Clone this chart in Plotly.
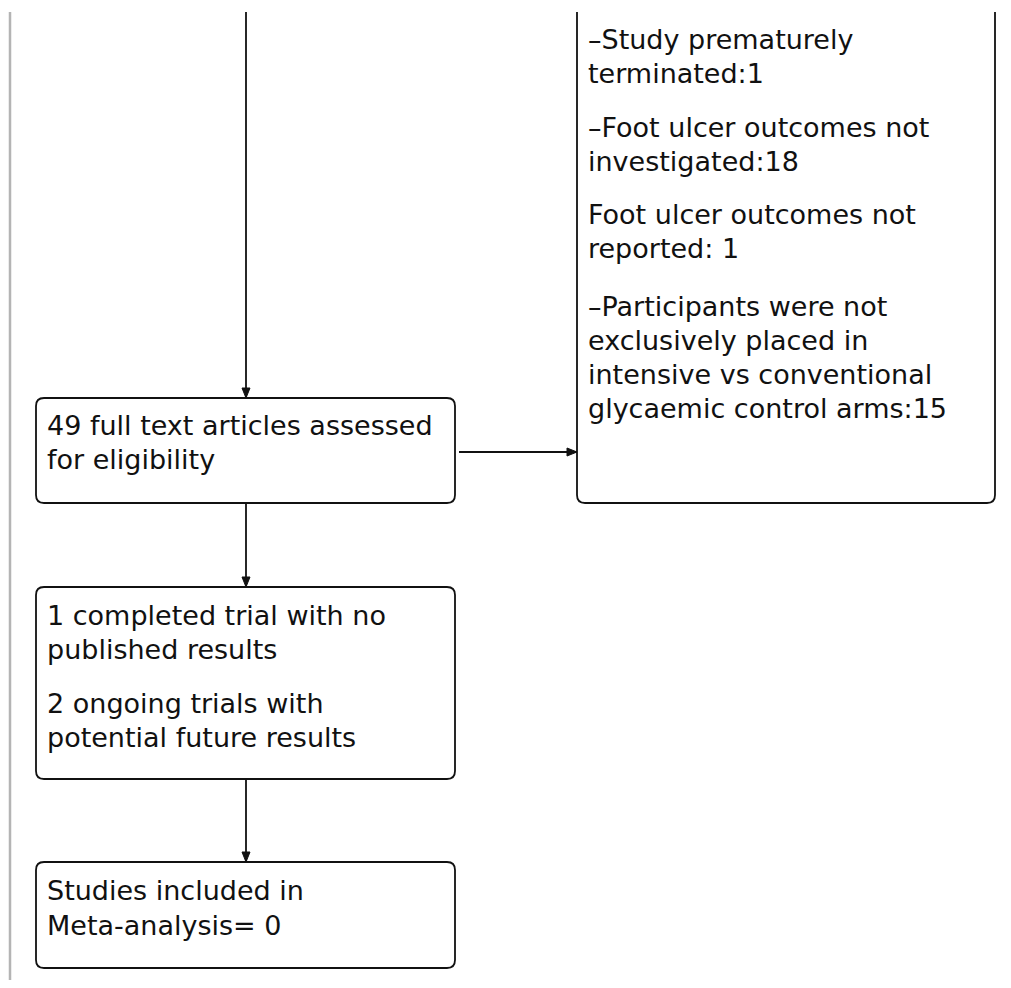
import plotly.graph_objects as go

# ---- content (text of each box, line by line) ----
excluded_lines = [
    "–Study prematurely", "terminated:1",
    "–Foot ulcer outcomes not", "investigated:18",
    "Foot ulcer outcomes not", "reported: 1",
    "–Participants were not", "exclusively placed in",
    "intensive vs conventional", "glycaemic control arms:15",
]
assessed_lines = ["49 full text articles assessed", "for eligibility"]
trials_lines = ["1 completed trial with no", "published results",
                "2 ongoing trials with", "potential future results"]
included_lines = ["Studies included in", "Meta-analysis= 0"]

# ---- layout geometry (pixels, y downwards) ----
W, H = 1011, 988
OFF = 8  # page body margin compensation
FS = 27
left_x0, left_x1 = 36, 455
right_x0, right_x1 = 577, 995
axis_x = 246
boxes = {
    "assessed": (left_x0, 398, left_x1, 503),
    "trials": (left_x0, 587, left_x1, 779),
    "included": (left_x0, 862, left_x1, 968),
}
excluded_box = (right_x0, 12, right_x1, 503)

excluded_base = [47, 81, 135, 169, 222, 256, 314, 348, 382, 416]
assessed_base = [433, 467]
trials_base = [623, 657, 711, 745]
included_base = [898, 933]

fig = go.Figure()
shapes = []
LINE = dict(color="#111111", width=1.8)


def rrect(x0, y0, x1, y1, r=8, top=True):
    if top:
        p = (f"M {x0+r},{y0} L {x1-r},{y0} Q {x1},{y0} {x1},{y0+r} "
             f"L {x1},{y1-r} Q {x1},{y1} {x1-r},{y1} L {x0+r},{y1} "
             f"Q {x0},{y1} {x0},{y1-r} L {x0},{y0+r} Q {x0},{y0} {x0+r},{y0} Z")
    else:
        p = (f"M {x0},{y0} L {x0},{y1-r} Q {x0},{y1} {x0+r},{y1} "
             f"L {x1-r},{y1} Q {x1},{y1} {x1},{y1-r} L {x1},{y0}")
    return dict(type="path", path=p, xref="x", yref="y", line=LINE,
                fillcolor="rgba(0,0,0,0)", layer="above")


for b in boxes.values():
    shapes.append(rrect(*b))
shapes.append(rrect(*excluded_box, top=False))

# gray frame line on the left
shapes.append(dict(type="line", x0=10, x1=10, y0=12, y1=H, xref="x", yref="y",
                   line=dict(color="#b4b4b4", width=2.5)))


def arrow(x0, y0, x1, y1):
    shapes.append(dict(type="line", x0=x0, y0=y0, x1=x1, y1=y1, xref="x", yref="y", line=LINE))
    L, hw = 10, 4
    if x0 == x1:  # vertical downward
        p = f"M {x1},{y1} L {x1-hw},{y1-L} L {x1+hw},{y1-L} Z"
    else:  # horizontal rightward
        p = f"M {x1},{y1} L {x1-L},{y1-hw} L {x1-L},{y1+hw} Z"
    shapes.append(dict(type="path", path=p, xref="x", yref="y",
                       fillcolor="#111111", line=dict(color="#111111", width=1)))


arrow(axis_x, 12, axis_x, boxes["assessed"][1])
arrow(axis_x, boxes["assessed"][3], axis_x, boxes["trials"][1])
arrow(axis_x, boxes["trials"][3], axis_x, boxes["included"][1])
arrow(459, 452, right_x0, 452)

annotations = []
FONT = dict(family="DejaVu Sans", size=FS, color="#111111")


def add_lines(lines, bases, x):
    for t, b in zip(lines, bases):
        annotations.append(dict(x=x, y=b - 8, text=t, showarrow=False,
                                xanchor="left", yanchor="middle",
                                xref="x", yref="y", font=FONT))


add_lines(excluded_lines, excluded_base, 586)
add_lines(assessed_lines, assessed_base, 45)
add_lines(trials_lines, trials_base, 45)
add_lines(included_lines, included_base, 45)

fig.update_layout(
    width=W - OFF, height=H - 2 * OFF,
    margin=dict(l=0, r=0, t=0, b=0),
    paper_bgcolor="white", plot_bgcolor="white",
    xaxis=dict(range=[OFF, W], visible=False, fixedrange=True),
    yaxis=dict(range=[H - OFF, OFF], visible=False, fixedrange=True),
    shapes=shapes, annotations=annotations, showlegend=False,
)
fig.write_html("out.html")
